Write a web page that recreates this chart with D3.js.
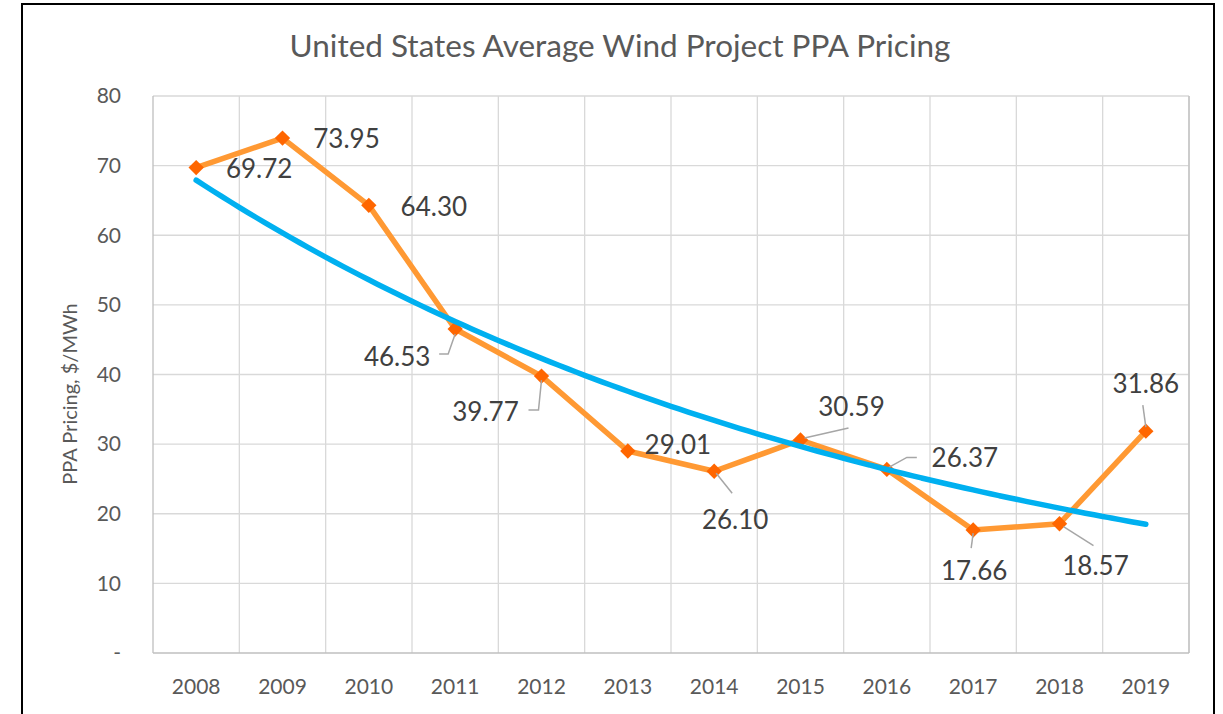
<!DOCTYPE html>
<html><head><meta charset="utf-8">
<script src="https://cdn.jsdelivr.net/npm/d3@7"></script>
<style>
html,body{margin:0;padding:0;background:#fff;}
text{font-family:Lato,"Open Sans",sans-serif;fill:#595959;}
</style></head>
<body>
<svg id="chart" width="1223" height="714"></svg>
<script>
// ---- data ----
const years = ["2008","2009","2010","2011","2012","2013","2014","2015","2016","2017","2018","2019"];
const prices = [69.72, 73.95, 64.30, 46.53, 39.77, 29.01, 26.10, 30.59, 26.37, 17.66, 18.57, 31.86];
const yTicks = [0, 10, 20, 30, 40, 50, 60, 70, 80];
const yTickLabels = ["-", "10", "20", "30", "40", "50", "60", "70", "80"];
const titleText = "United States Average Wind Project PPA Pricing";
const yAxisTitle = "PPA Pricing, $/MWh";

// ---- layout (label offsets & leader lines, px relative to point) ----
const labelOffsets = [[63,1],[64,1],[65,2],[-58,28],[-56,36],[50,-6],[21,49],[51,-33],[78,-11],[1,41],[36,42],[0,-47]];
const leaders = [null,null,null,
  [[0,5],[-7,25],[-16,25]],
  [[0,4],[-3,34],[-13,34]],
  null,
  [[2,2],[18,22]],
  [[4,-2],[48,-12]],
  [[2,-2],[20,-12],[30,-12]],
  [[0,3],[-2,18]],
  [[4,3],[34,22]],
  [[0,-4],[-3,-26]]];

const svg = d3.select("#chart");
const L = 153, R = 1189, T = 96, B = 653;

// outer border
svg.append("rect").attr("x",22).attr("y",4).attr("width",1192).attr("height",760)
  .attr("fill","none").attr("stroke","#000").attr("stroke-width",2);

const x = d3.scaleBand().domain(years).range([L, R]).paddingInner(0).paddingOuter(0);
const y = d3.scaleLinear().domain([0, 80]).range([B, T]);
const cx = d => x(d) + x.bandwidth()/2;

// horizontal gridlines
svg.append("g").selectAll("line").data(yTicks.filter(t=>t>0)).join("line")
  .attr("x1",L).attr("x2",R).attr("y1",d=>y(d)).attr("y2",d=>y(d))
  .attr("stroke","#d9d9d9").attr("stroke-width",1.3);
// vertical gridlines (category boundaries)
const bounds = years.map(d=>x(d)).concat([R]);
svg.append("g").selectAll("line").data(bounds.slice(1)).join("line")
  .attr("x1",d=>d).attr("x2",d=>d).attr("y1",T).attr("y2",B)
  .attr("stroke","#d9d9d9").attr("stroke-width",1.3);
// axes lines
svg.append("line").attr("x1",L).attr("x2",L).attr("y1",T).attr("y2",B).attr("stroke","#bfbfbf").attr("stroke-width",1.3);
svg.append("line").attr("x1",L).attr("x2",R).attr("y1",B).attr("y2",B).attr("stroke","#bfbfbf").attr("stroke-width",1.3);
svg.append("line").attr("x1",R).attr("x2",R).attr("y1",T).attr("y2",B).attr("stroke","#bfbfbf").attr("stroke-width",1.3);

// y tick labels
svg.append("g").selectAll("text").data(yTicks).join("text")
  .attr("x",121).attr("y",d=>y(d)).attr("dy","0.35em").attr("text-anchor","end")
  .attr("font-size",21).text((d,i)=>yTickLabels[i]);
// x tick labels
svg.append("g").selectAll("text").data(years).join("text")
  .attr("x",d=>cx(d)).attr("y",687).attr("dy","0.35em").attr("text-anchor","middle")
  .attr("font-size",21).text(d=>d);

// title
svg.append("text").attr("x",620).attr("y",46).attr("dy","0.35em").attr("text-anchor","middle")
  .attr("font-size",31.5).text(titleText);
// y axis title
svg.append("text").attr("transform","translate(70,394) rotate(-90)").attr("dy","0.35em")
  .attr("text-anchor","middle").attr("font-size",20).text(yAxisTitle);

// data line
const pts = years.map((d,i)=>({yr:d, v:prices[i]}));
svg.append("path").datum(pts)
  .attr("d", d3.line().x(d=>cx(d.yr)).y(d=>y(d.v)))
  .attr("fill","none").attr("stroke","#FF9933").attr("stroke-width",5.5).attr("stroke-linejoin","round");

// markers
svg.append("g").selectAll("path").data(pts).join("path")
  .attr("transform",d=>`translate(${cx(d.yr)},${y(d.v)})`)
  .attr("d", d3.symbol().type(d3.symbolDiamond2).size(150))
  .attr("fill","#FF6600");

// leader lines
svg.append("g").selectAll("polyline").data(pts.map((p,i)=>({p, l:leaders[i]})).filter(d=>d.l)).join("polyline")
  .attr("points", d=>d.l.map(o=>[cx(d.p.yr)+o[0], y(d.p.v)+o[1]].join(",")).join(" "))
  .attr("fill","none").attr("stroke","#a6a6a6").attr("stroke-width",1.5);

// exponential trendline (least squares on ln y)
const n = prices.length;
const xs = d3.range(1, n+1);
const lny = prices.map(Math.log);
const mx = d3.mean(xs), my = d3.mean(lny);
const b = d3.sum(xs.map((xv,i)=>(xv-mx)*(lny[i]-my))) / d3.sum(xs.map(xv=>(xv-mx)**2));
const a = my - b*mx;
const xi = d3.scaleLinear().domain([1, n]).range([cx(years[0]), cx(years[n-1])]);
const trend = d3.range(1, n+0.001, 0.1).map(t=>({t, v:Math.exp(a+b*t)}));
svg.append("path").datum(trend)
  .attr("d", d3.line().x(d=>xi(d.t)).y(d=>y(d.v)).curve(d3.curveMonotoneX))
  .attr("fill","none").attr("stroke","#00B0F0").attr("stroke-width",5.5).attr("stroke-linecap","round");

// data labels
svg.append("g").selectAll("text").data(pts).join("text")
  .attr("x",(d,i)=>cx(d.yr)+labelOffsets[i][0])
  .attr("y",(d,i)=>y(d.v)+labelOffsets[i][1])
  .attr("dy","0.35em").attr("text-anchor","middle").attr("font-size",26)
  .style("fill","#404040")
  .text(d=>d.v.toFixed(2));
</script>
</body></html>
